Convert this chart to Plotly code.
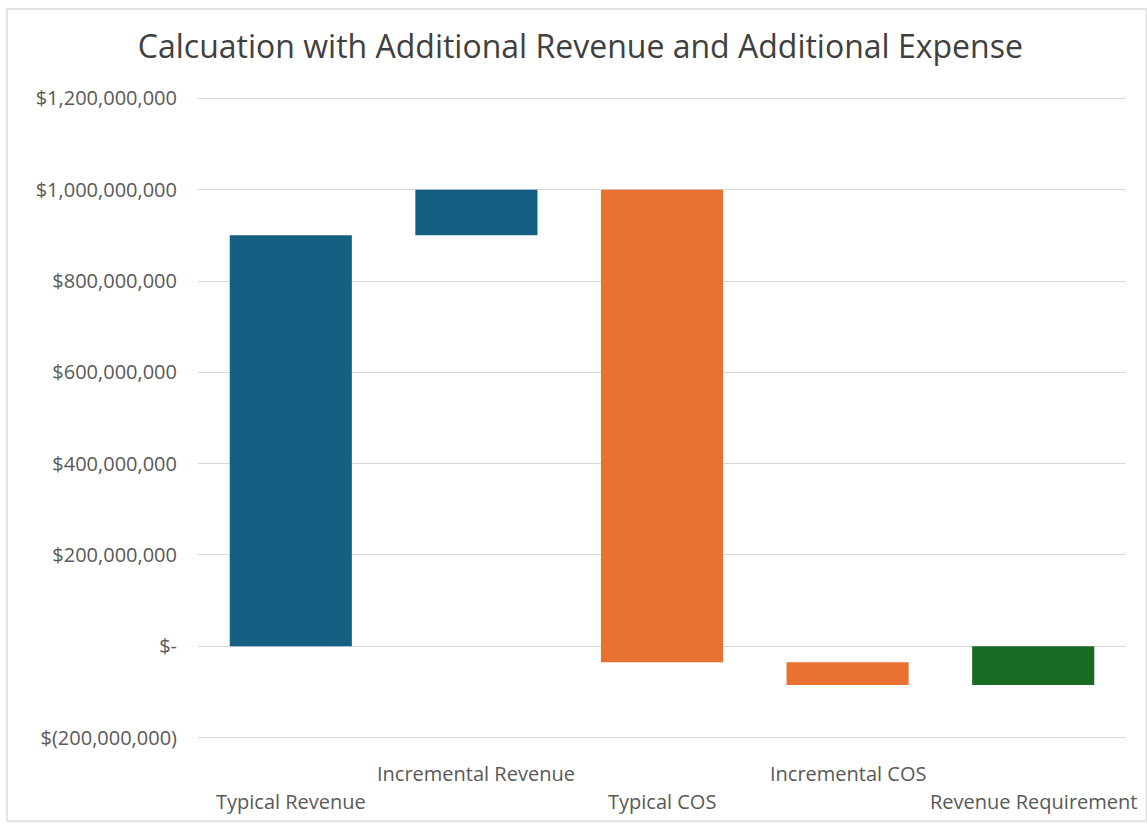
import plotly.graph_objects as go

categories = ["Typical Revenue", "Incremental Revenue", "Typical COS", "Incremental COS", "Revenue Requirement"]
values = [900_000_000, 100_000_000, -1_035_000_000, -50_000_000, -85_000_000]
measures = ["relative", "relative", "relative", "relative", "total"]
y_tickvals = [-200_000_000, 0, 200_000_000, 400_000_000, 600_000_000, 800_000_000, 1_000_000_000, 1_200_000_000]
y_ticktext = ["$(200,000,000)", "$-", "$200,000,000", "$400,000,000", "$600,000,000",
              "$800,000,000", "$1,000,000,000", "$1,200,000,000"]
title_text = "Calcuation with Additional Revenue and Additional Expense"

FONT = "Open Sans"
TXT = "#595959"

fig = go.Figure(go.Waterfall(
    x=categories,
    y=values,
    measure=measures,
    increasing=dict(marker=dict(color="#156082")),
    decreasing=dict(marker=dict(color="#E97132")),
    totals=dict(marker=dict(color="#196B24")),
    connector=dict(visible=False),
    hoverinfo="x+y",
))

# staggered category labels
for i, c in enumerate(categories):
    fig.add_annotation(
        x=c, y=-0.098 if i % 2 == 0 else -0.053, xref="x", yref="paper",
        text=c, showarrow=False, yanchor="middle",
        font=dict(family=FONT, size=20, color=TXT),
    )

# light outer frame
fig.add_shape(type="rect", xref="paper", yref="paper",
              x0=-0.206, x1=1.022, y0=-0.128, y1=1.137,
              line=dict(color="#E4E4E4", width=2), layer="below")

fig.update_layout(
    width=1147, height=825,
    paper_bgcolor="white", plot_bgcolor="white",
    margin=dict(l=198, r=21, t=97, b=86, autoexpand=False),
    waterfallgap=0.342,
    showlegend=False,
    title=dict(text=title_text, x=0.506, xanchor="center", y=0.943, yanchor="middle",
               font=dict(family=FONT, size=32, color="#404040")),
    font=dict(family=FONT, color=TXT),
)
fig.update_xaxes(showticklabels=False, showgrid=False, zeroline=False, showline=False,
                 automargin=False, range=[-0.5, len(categories) - 0.5])
fig.update_yaxes(
    range=[-203_000_000, 1_203_000_000],
    tickvals=y_tickvals, ticktext=y_ticktext,
    tickfont=dict(family=FONT, size=20, color=TXT),
    showgrid=True, gridcolor="#D9D9D9", gridwidth=1,
    zeroline=True, zerolinecolor="#D9D9D9", zerolinewidth=1,
    showline=False, ticks="", ticklabelstandoff=20, automargin=False,
)

fig.write_html("out.html")
